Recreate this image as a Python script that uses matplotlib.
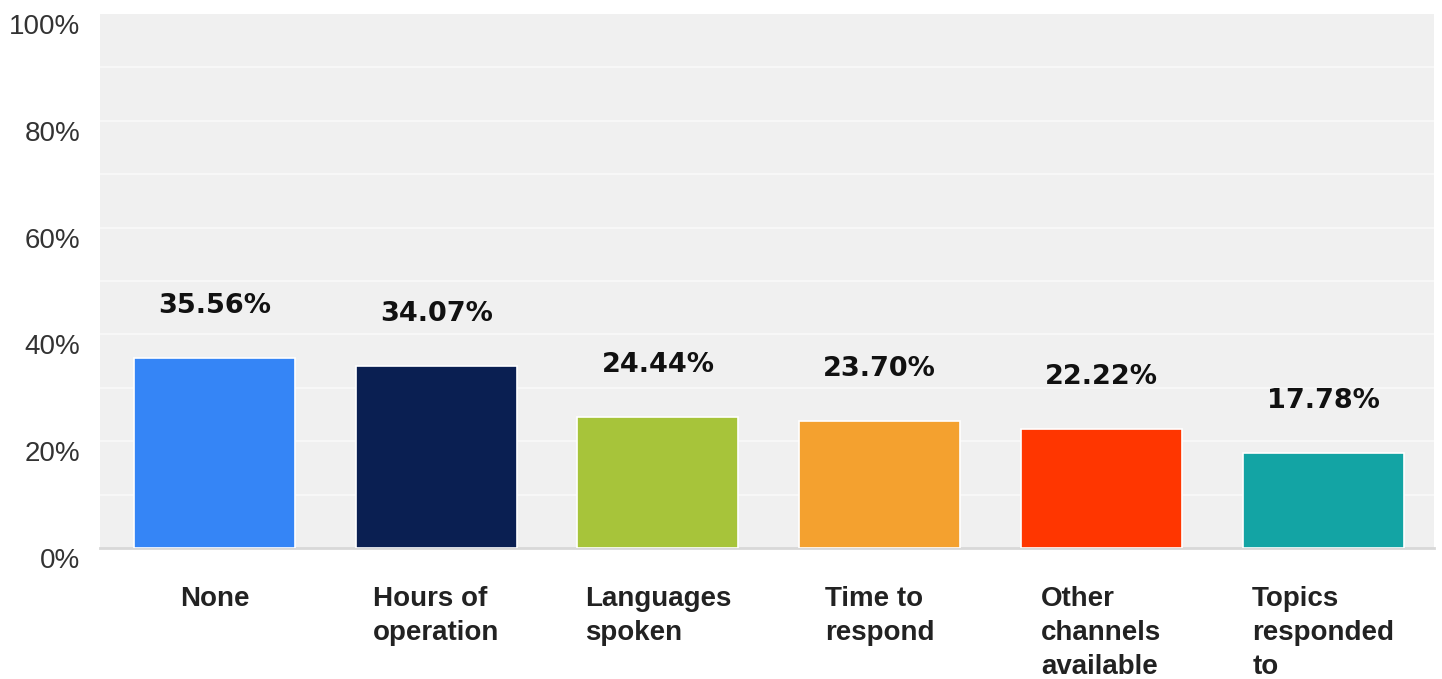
import matplotlib.pyplot as plt
import matplotlib.transforms as mtransforms
import numpy as np

categories = ["None", "Hours of\noperation", "Languages\nspoken", "Time to\nrespond",
              "Other\nchannels\navailable", "Topics\nresponded\nto"]
values = [35.56, 34.07, 24.44, 23.70, 22.22, 17.78]
colors = ["#3585f6", "#0a1f52", "#a7c43a", "#f4a12f", "#ff3600", "#13a4a4"]
yticks = [0, 20, 40, 60, 80, 100]

fig = plt.figure(figsize=(14.42, 6.79), dpi=100)
ax = fig.add_axes([100 / 1442, 131 / 679, 1334 / 1442, 534 / 679])
ax.set_facecolor("#f0f0f0")

x = np.arange(len(values))
ax.bar(x, values, width=0.726, color=colors, edgecolor="white", linewidth=1.2, zorder=3)

# faint white stripes in the background
for g in range(10, 100, 10):
    ax.axhline(g, color="white", linewidth=1.5, alpha=0.5, zorder=1)

for xi, v in zip(x, values):
    ax.annotate(f"{v:.2f}%", (xi, v), xytext=(0, 37.5), textcoords="offset points",
                ha="center", va="center", fontsize=19.5, fontweight="bold",
                family="DejaVu Sans", color="#111111")

ax.set_xlim(-0.516, len(values) - 0.5)
ax.set_ylim(0, 100)
ax.set_yticks(yticks)
ax.set_yticklabels([f"{t}%" for t in yticks], fontsize=20, family="Liberation Sans", color="#333333")
ax.set_xticks(x)
ax.set_xticklabels(categories, fontsize=20, family="Liberation Sans", fontweight="bold",
                   color="#222222", multialignment="left", linespacing=1.4)
ax.tick_params(axis="y", length=0, pad=14.4)
ax.tick_params(axis="x", length=0, pad=27)

# y labels sit a little below their tick positions
shift = mtransforms.ScaledTranslation(0, -10 / 100, fig.dpi_scale_trans)
for lab in ax.get_yticklabels():
    lab.set_transform(lab.get_transform() + shift)

for side in ["top", "right", "left"]:
    ax.spines[side].set_visible(False)
ax.spines["bottom"].set_color("#d8d8d8")
ax.spines["bottom"].set_linewidth(2)

fig.savefig("out.png", dpi=100)
